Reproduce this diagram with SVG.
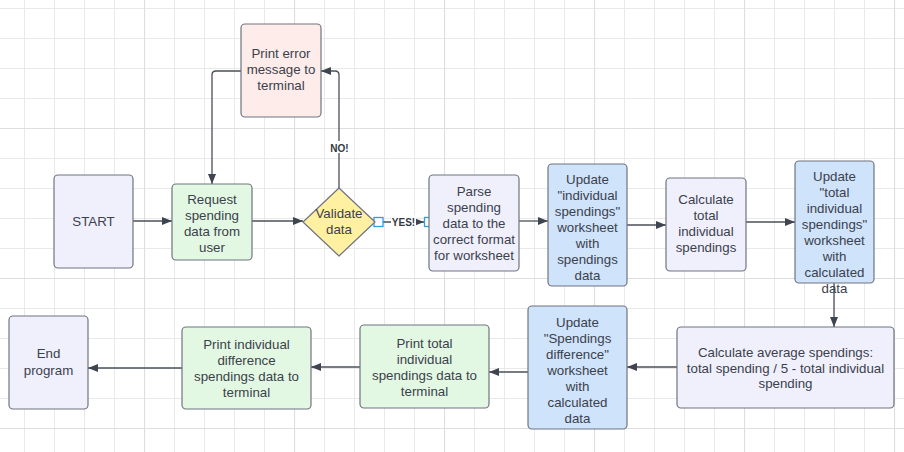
<svg xmlns="http://www.w3.org/2000/svg" width="904" height="452" viewBox="0 0 904 452">
<defs>
<pattern id="grid" x="24" y="8" width="30" height="30" patternUnits="userSpaceOnUse">
<path d="M0.5 0V30M0 0.5H30" fill="none" stroke="#e9e9e9" stroke-width="1"/>
</pattern>
<pattern id="major" x="144" y="128" width="150" height="150" patternUnits="userSpaceOnUse">
<path d="M0.5 0V150M0 0.5H150" fill="none" stroke="#dedede" stroke-width="1.2"/>
</pattern>
<marker id="arr" viewBox="0 0 10 10" refX="10" refY="5" markerWidth="10" markerHeight="10" markerUnits="userSpaceOnUse" orient="auto">
<path d="M0 1 L10 5 L0 9 Z" fill="#3f4550"/>
</marker>
</defs>
<style>
.bg{fill:#fff}
.n{stroke:#6f7480;stroke-width:1.2}
.lav{fill:#f0f0fd}
.grn{fill:#e3f8e3}
.pnk{fill:#fdecea}
.blu{fill:#cfe3fb}
.yel{fill:#fff1a1}
.t{font-family:"Liberation Sans",Arial,sans-serif;font-size:13.3px;fill:#3b414b;text-anchor:middle}
.c{fill:none;stroke:#4a505a;stroke-width:1.3;marker-end:url(#arr)}
.lbl{font-family:"Liberation Sans",Arial,sans-serif;font-size:10px;font-weight:bold;fill:#333a44;text-anchor:middle}
.h{fill:#fff;stroke:#2d9fe0;stroke-width:1.3}
</style>
<rect class="bg" width="904" height="452"/>
<rect width="904" height="452" fill="url(#grid)"/>
<rect width="904" height="452" fill="url(#major)"/>

<g id="connectors">
<path class="c" d="M133 221H172"/>
<path class="c" d="M252 221H303"/>
<path class="c" d="M339 188V75Q339 71 335 71H321"/>
<path class="c" d="M241 71H216Q212 71 212 75V184"/>
<path class="c" d="M383 222H424"/>
<path class="c" d="M519 221H548"/>
<path class="c" d="M627 225H666"/>
<path class="c" d="M746 222H795"/>
<path class="c" d="M834 283V327"/>
<path class="c" d="M677 367H627"/>
<path class="c" d="M528 372H489"/>
<path class="c" d="M360 367H311"/>
<path class="c" d="M182 368H88"/>
<rect x="329" y="141" width="21" height="12" fill="#fff"/>
<text class="lbl" x="339.5" y="151.5">NO!</text>
<rect x="391" y="215" width="25" height="13" fill="#fff"/>
<text class="lbl" x="403.5" y="225.5">YES!</text>
<rect class="h" x="374" y="217.5" width="9" height="9"/>
<rect class="h" x="424.5" y="217.5" width="9" height="9"/>
</g>

<g id="start">
<rect class="n lav" x="54" y="175" width="79" height="93" rx="4"/>
<text class="t" x="93.5" y="226">START</text>
</g>
<g id="request">
<rect class="n grn" x="172" y="184" width="80" height="76" rx="4"/>
<text class="t" x="212" y="204">Request</text>
<text class="t" x="212" y="220">spending</text>
<text class="t" x="212" y="236">data from</text>
<text class="t" x="212" y="252">user</text>
</g>
<g id="print-error">
<rect class="n pnk" x="241" y="24" width="80" height="93" rx="4"/>
<text class="t" x="281" y="58">Print error</text>
<text class="t" x="281" y="74">message to</text>
<text class="t" x="281" y="90">terminal</text>
</g>
<g id="validate">
<path class="n yel" d="M339 188L375 222L339 256L303 222Z" stroke-linejoin="round"/>
<text class="t" x="339" y="218">Validate</text>
<text class="t" x="339" y="234">data</text>
</g>
<g id="parse">
<rect class="n lav" x="429" y="175" width="90" height="96" rx="4"/>
<text class="t" x="474" y="196">Parse</text>
<text class="t" x="474" y="212">spending</text>
<text class="t" x="474" y="228">data to the</text>
<text class="t" x="474" y="244">correct format</text>
<text class="t" x="474" y="260">for worksheet</text>
</g>
<g id="update-individual">
<rect class="n blu" x="548" y="164" width="79" height="122" rx="4"/>
<text class="t" x="587.5" y="184">Update</text>
<text class="t" x="587.5" y="200">"individual</text>
<text class="t" x="587.5" y="216">spendings"</text>
<text class="t" x="587.5" y="232">worksheet</text>
<text class="t" x="587.5" y="248">with</text>
<text class="t" x="587.5" y="264">spendings</text>
<text class="t" x="587.5" y="280">data</text>
</g>
<g id="calc-total">
<rect class="n lav" x="666" y="178" width="80" height="93" rx="4"/>
<text class="t" x="706" y="204">Calculate</text>
<text class="t" x="706" y="220">total</text>
<text class="t" x="706" y="236">individual</text>
<text class="t" x="706" y="252">spendings</text>
</g>
<g id="update-total">
<rect class="n blu" x="795" y="161" width="79" height="122" rx="4"/>
<text class="t" x="834.5" y="181">Update</text>
<text class="t" x="834.5" y="197">"total</text>
<text class="t" x="834.5" y="213">individual</text>
<text class="t" x="834.5" y="229">spendings"</text>
<text class="t" x="834.5" y="245">worksheet</text>
<text class="t" x="834.5" y="261">with</text>
<text class="t" x="834.5" y="277">calculated</text>
<text class="t" x="834.5" y="293">data</text>
</g>
<g id="calc-average">
<rect class="n lav" x="677" y="327" width="217" height="81" rx="4"/>
<text class="t" x="785.5" y="357">Calculate average spendings:</text>
<text class="t" x="785.5" y="373">total spending / 5 - total individual</text>
<text class="t" x="785.5" y="388">spending</text>
</g>
<g id="update-difference">
<rect class="n blu" x="528" y="306" width="99" height="123" rx="4"/>
<text class="t" x="577.5" y="327">Update</text>
<text class="t" x="577.5" y="343">"Spendings</text>
<text class="t" x="577.5" y="359">difference"</text>
<text class="t" x="577.5" y="375">worksheet</text>
<text class="t" x="577.5" y="391">with</text>
<text class="t" x="577.5" y="407">calculated</text>
<text class="t" x="577.5" y="423">data</text>
</g>
<g id="print-total">
<rect class="n grn" x="360" y="325" width="129" height="83" rx="4"/>
<text class="t" x="424.5" y="348">Print total</text>
<text class="t" x="424.5" y="364">individual</text>
<text class="t" x="424.5" y="380">spendings data to</text>
<text class="t" x="424.5" y="396">terminal</text>
</g>
<g id="print-difference">
<rect class="n grn" x="182" y="327" width="129" height="82" rx="4"/>
<text class="t" x="246.5" y="349">Print individual</text>
<text class="t" x="246.5" y="365">difference</text>
<text class="t" x="246.5" y="381">spendings data to</text>
<text class="t" x="246.5" y="397">terminal</text>
</g>
<g id="end">
<rect class="n lav" x="9" y="316" width="79" height="93" rx="4"/>
<text class="t" x="48.5" y="358">End</text>
<text class="t" x="48.5" y="375">program</text>
</g>
</svg>
